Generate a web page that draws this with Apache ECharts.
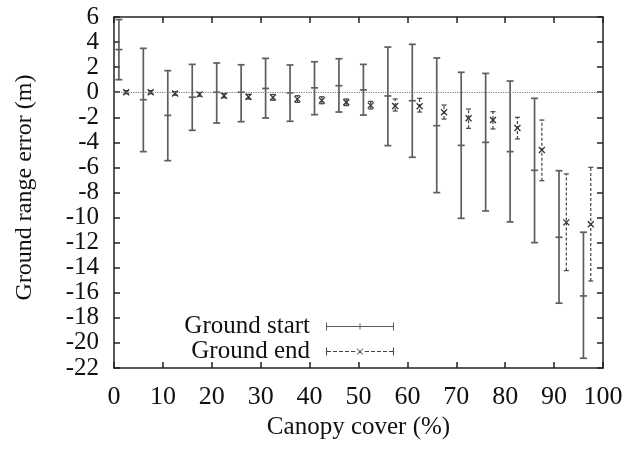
<!DOCTYPE html>
<html>
<head>
<meta charset="utf-8">
<script src="https://cdn.jsdelivr.net/npm/echarts@6/dist/echarts.min.js"></script>
<style>
  html, body { margin: 0; padding: 0; background: #fff; }
  #chart { width: 638px; height: 449px; }
</style>
</head>
<body>
<div id="chart"></div>
<script>
// canopy cover (%) where each bar sits
var startX = [1, 6, 11, 16, 21, 26, 31, 36, 41, 46, 51, 56, 61, 66, 71, 76, 81, 86, 91, 96];
var endX = [2.5, 7.5, 12.5, 17.5, 22.5, 27.5, 32.5, 37.5, 42.5, 47.5, 52.5, 57.5, 62.5, 67.5, 72.5, 77.5, 82.5, 87.5, 92.5, 97.5];

// ground start: centre, top and bottom of each error bar (m)
var startMid = [3.4, -0.6, -1.85, -0.4, 0.0, 0.0, 0.3, -0.05, 0.35, 0.52, 0.18, -0.3, -0.68, -2.67, -4.24, -4.0, -4.74, -6.23, -11.57, -16.25];
var startHigh = [5.8, 3.5, 1.72, 2.22, 2.33, 2.19, 2.7, 2.17, 2.43, 2.67, 2.22, 3.6, 3.82, 2.73, 1.59, 1.5, 0.89, -0.49, -6.26, -11.17];
var startLow = [1.0, -4.74, -5.46, -3.04, -2.46, -2.35, -2.06, -2.32, -1.79, -1.58, -1.82, -4.26, -5.19, -8.01, -10.06, -9.47, -10.35, -12.0, -16.83, -21.22];

// ground end
var endMid = [0.0, 0.0, -0.1, -0.17, -0.28, -0.36, -0.41, -0.55, -0.65, -0.8, -1.05, -1.1, -1.12, -1.6, -2.08, -2.22, -2.85, -4.61, -10.38, -10.53];
var endHigh = [0.12, 0.12, 0.04, -0.02, -0.12, -0.17, -0.18, -0.28, -0.36, -0.54, -0.73, -0.54, -0.49, -1.02, -1.34, -1.55, -2.0, -2.22, -6.52, -5.99];
var endLow = [-0.12, -0.12, -0.24, -0.32, -0.44, -0.55, -0.64, -0.81, -0.92, -1.07, -1.34, -1.5, -1.58, -2.14, -2.88, -2.93, -3.73, -7.06, -14.23, -15.06];

var xTicks = [0, 100, 10];   // min, max, step
var yTicks = [-22, 6, 2];

var FONT = "'Liberation Serif', 'Times New Roman', serif";
var AXIS_COLOR = '#222';

function rows(xs, lo, hi, mid) {
    var out = [];
    for (var i = 0; i < xs.length; i++) {
        out.push([xs[i], lo[i], hi[i], mid[i]]);
    }
    return out;
}

// draws one error bar: vertical line, two caps and the point marker
function errorBar(kind) {
    return function (params, api) {
        var x = api.value(0);
        var lo = api.coord([x, api.value(1)]);
        var hi = api.coord([x, api.value(2)]);
        var mid = api.coord([x, api.value(3)]);
        var color = api.visual('color');
        var solid = {stroke: color, lineWidth: kind === 'start' ? 1.7 : 1.2};
        var bar = {stroke: color, lineWidth: solid.lineWidth, lineDash: kind === 'end' ? [3, 2] : null};
        var w = kind === 'start' ? 3.5 : 2.5;
        var kids = [
            {type: 'line', shape: {x1: lo[0], y1: lo[1], x2: hi[0], y2: hi[1]}, style: bar},
            {type: 'line', shape: {x1: lo[0] - w, y1: lo[1], x2: lo[0] + w, y2: lo[1]}, style: solid},
            {type: 'line', shape: {x1: hi[0] - w, y1: hi[1], x2: hi[0] + w, y2: hi[1]}, style: solid}
        ];
        if (kind === 'start') {
            kids.push({type: 'line', shape: {x1: mid[0] - 3.5, y1: mid[1], x2: mid[0] + 3.5, y2: mid[1]}, style: solid});
        } else {
            var m = 3;
            var xs = {stroke: '#333', lineWidth: 1.3};
            kids.push({type: 'line', shape: {x1: mid[0] - m, y1: mid[1] - m, x2: mid[0] + m, y2: mid[1] + m}, style: xs});
            kids.push({type: 'line', shape: {x1: mid[0] - m, y1: mid[1] + m, x2: mid[0] + m, y2: mid[1] - m}, style: xs});
        }
        return {type: 'group', children: kids};
    };
}

// legend samples, 68 x 8
var iconStart = 'path://M0,3.5h68v1h-68z M0,0h1v8h-1z M67,0h1v8h-1z M33.5,1h1v6h-1z';
var iconEnd = 'path://M0,0h1v8h-1z M67,0h1v8h-1z M1,3.5h4v1h-4z M7,3.5h4v1h-4z M13,3.5h4v1h-4z M19,3.5h4v1h-4z M25,3.5h4v1h-4z ' +
    'M39,3.5h4v1h-4z M45,3.5h4v1h-4z M51,3.5h4v1h-4z M57,3.5h4v1h-4z M63,3.5h4v1h-4z ' +
    'M30.5,1L31.5,1L37.5,7L36.5,7Z M36.5,1L37.5,1L31.5,7L30.5,7Z';

function axisBase(showLabels) {
    return {
        type: 'value',
        axisLine: {show: true, onZero: false, lineStyle: {color: AXIS_COLOR, width: 1.5}},
        axisTick: {show: true, inside: true, length: 6, lineStyle: {color: AXIS_COLOR, width: 1.5}},
        splitLine: {show: false},
        axisLabel: {show: showLabels, color: '#111', fontFamily: FONT}
    };
}

var xBottom = axisBase(true);
xBottom.min = xTicks[0]; xBottom.max = xTicks[1]; xBottom.interval = xTicks[2];
xBottom.position = 'bottom';
xBottom.axisLabel.fontSize = 26;
xBottom.axisLabel.margin = 16;
xBottom.name = 'Canopy cover (%)';
xBottom.nameLocation = 'middle';
xBottom.nameGap = 47;
xBottom.nameTextStyle = {fontSize: 25, color: '#111', fontFamily: FONT};

var xTop = axisBase(false);
xTop.min = xTicks[0]; xTop.max = xTicks[1]; xTop.interval = xTicks[2];
xTop.position = 'top';

var yLeft = axisBase(true);
yLeft.min = yTicks[0]; yLeft.max = yTicks[1]; yLeft.interval = yTicks[2];
yLeft.position = 'left';
yLeft.axisLabel.fontSize = 25;
yLeft.axisLabel.margin = 15;
yLeft.name = 'Ground range error (m)';
yLeft.nameLocation = 'middle';
yLeft.nameGap = 77;
yLeft.nameTextStyle = {fontSize: 24, color: '#111', fontFamily: FONT, padding: [0, 0, 0, 10]};

var yRight = axisBase(false);
yRight.min = yTicks[0]; yRight.max = yTicks[1]; yRight.interval = yTicks[2];
yRight.position = 'right';

var legendText = {fontSize: 25, color: '#111', fontFamily: FONT, padding: [0, 11, 0, 0]};

var chart = echarts.init(document.getElementById('chart'), null, {renderer: 'canvas'});
chart.setOption({
    animation: false,
    backgroundColor: '#fff',
    grid: {left: 114, top: 17, right: 35, bottom: 81},
    xAxis: [xBottom, xTop],
    yAxis: [yLeft, yRight],
    legend: [
        {data: [{name: 'Ground start', icon: iconStart}], right: 239, top: 309, orient: 'vertical', align: 'right',
            itemWidth: 68, itemHeight: 8, textStyle: legendText, selectedMode: false},
        {data: [{name: 'Ground end', icon: iconEnd}], right: 239, top: 334, orient: 'vertical', align: 'right',
            itemWidth: 68, itemHeight: 8, textStyle: legendText, selectedMode: false}
    ],
    series: [
        {
            name: 'Ground start',
            type: 'custom',
            xAxisIndex: 0, yAxisIndex: 0,
            color: '#5e5e5e',
            renderItem: errorBar('start'),
            encode: {x: 0, y: [1, 2, 3]},
            data: rows(startX, startLow, startHigh, startMid),
            z: 3,
            markLine: {
                silent: true,
                symbol: ['none', 'none'],
                label: {show: false},
                lineStyle: {type: 'dotted', color: '#777', width: 1.2},
                data: [{yAxis: 0}]
            }
        },
        {
            name: 'Ground end',
            type: 'custom',
            xAxisIndex: 0, yAxisIndex: 0,
            color: '#444',
            renderItem: errorBar('end'),
            encode: {x: 0, y: [1, 2, 3]},
            data: rows(endX, endLow, endHigh, endMid),
            z: 4
        }
    ]
});
</script>
</body>
</html>
